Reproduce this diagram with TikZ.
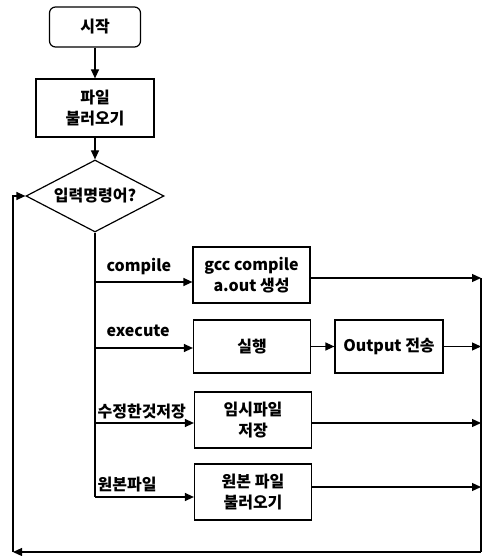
\documentclass[tikz,border=0pt]{standalone}
\usepackage{fontspec}
\setmainfont{Noto Sans CJK KR}
\usetikzlibrary{arrows.meta,positioning,calc,shapes.geometric}
\newcommand\boxfont{\fontsize{16}{21}\selectfont\bfseries}
\tikzset{
  startbox/.style={draw,rounded corners=6pt,minimum width=91pt,minimum height=40pt,
                   font=\boxfont},
  procbox/.style={draw,align=center,inner sep=2pt,minimum width=117pt,
                  minimum height=56pt,font=\boxfont},
  decide/.style={draw,diamond,aspect=1.9,inner sep=0pt,minimum width=138pt,
                 minimum height=72pt,font=\boxfont},
  flow/.style={-{Triangle[length=9pt,width=8pt]}},
  lbl/.style={font=\boxfont,inner sep=1pt,anchor=west},
}

\begin{document}
\begin{tikzpicture}[x=1pt,y=-1pt,line width=1.2pt]
  \useasboundingbox (0,0) rectangle (483,556);
  \node[startbox] (start) at (95,27) {시작};
  \node[procbox,minimum width=118pt,minimum height=58pt] (load) at (95,108) {파일\\불러오기};
  \node[decide] (cmd) at (95,196) {입력명령어?};

  \node[procbox] (gcc) at (251.5,275) {gcc compile\\a.out 생성};
  \node[procbox,minimum height=53pt] (run) at (252,346.5) {실행};
  \node[procbox,minimum width=108pt,minimum height=53pt] (out) at (389,346.5) {Output 전송};
  \node[procbox] (temp) at (253,420) {임시파일\\저장};
  \node[procbox] (orig) at (253,492) {원본 파일\\불러오기};

  \node[lbl] (lcomp) at (105,267) {compile};
  \node[lbl] (lexec) at (105,331) {execute};
  \node[lbl] (lsave) at (96,412) {수정한것저장};
  \node[lbl] (lorig) at (96,485) {원본파일};

  \draw[flow] (start) -- (load);
  \draw[flow] (load) -- (cmd);

  % branches
  \coordinate (jc) at (95,282);
  \coordinate (je) at (95,348);
  \coordinate (js) at (95,423);
  \coordinate (jo) at (95,497);
  \draw (cmd.south) -- (jo);
  \draw[flow] (jc) -- (jc -| gcc.west);
  \draw[flow] (je) -- (je -| run.west);
  \draw[flow] (js) -- (js -| temp.west);
  \draw[flow] (jo) -- (jo -| orig.west);
  \draw[flow] (run) -- (out);

  % return path
  \coordinate (rt) at (481,278);
  \coordinate (rs) at (481,423);
  \coordinate (ro) at (481,487);
  \coordinate (rb) at (481,552);
  \coordinate (lb) at (13,552);
  \draw (rt) -- (rb);
  \draw[flow] (rt -| gcc.east) -- (rt);
  \draw[flow] (out.east) -- (out.east -| rt);
  \draw[flow] (rs -| temp.east) -- (rs);
  \draw[flow] (ro -| orig.east) -- (ro);
  \draw[flow] (rb) -- (lb);
  \draw[flow] (lb) |- (cmd.west);
\end{tikzpicture}
\end{document}
